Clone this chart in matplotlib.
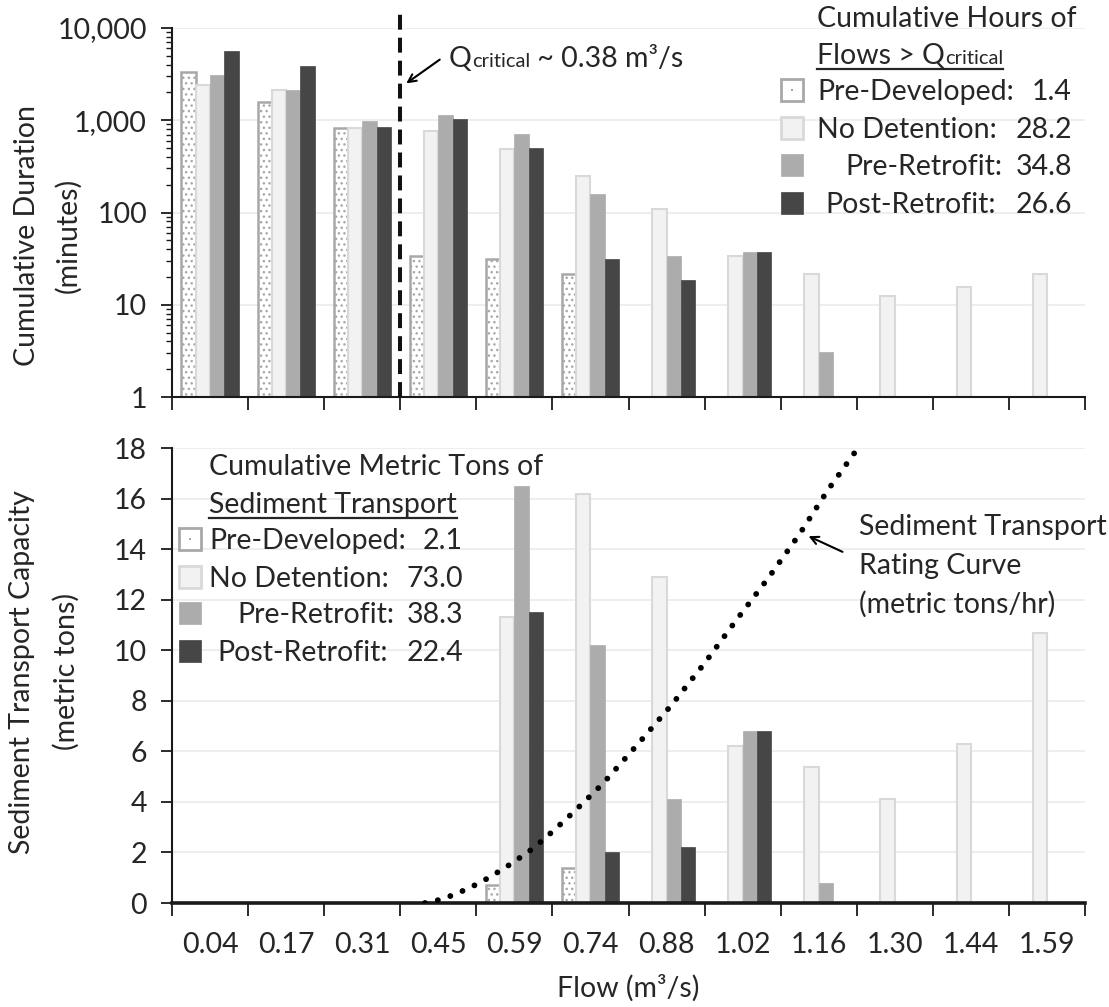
import matplotlib
matplotlib.use("Agg")
import matplotlib.pyplot as plt
import numpy as np
from matplotlib.ticker import FuncFormatter, LogLocator, NullFormatter
from matplotlib.patches import Rectangle, FancyArrowPatch
from matplotlib.lines import Line2D

plt.rcParams['font.family'] = ['Lato', 'DejaVu Sans']
plt.rcParams['hatch.linewidth'] = 1.0

# ---------------- data ----------------
flow_labels = ["0.04", "0.17", "0.31", "0.45", "0.59", "0.74",
               "0.88", "1.02", "1.16", "1.30", "1.44", "1.59"]
series_names = ["Pre-Developed", "No Detention", "Pre-Retrofit", "Post-Retrofit"]

duration_predev = [3300, 1560, 820, 34, 31, 21.7, 0, 0, 0, 0, 0, 0]
duration_nodet = [2400, 2130, 820, 760, 490, 250, 108, 34, 21.5, 12.5, 15.5, 21.5]
duration_preret = [3100, 2150, 970, 1150, 710, 158, 34, 37, 3.1, 0, 0, 0]
duration_post = [5650, 3860, 850, 1030, 495, 31, 18.7, 37, 0, 0, 0, 0]

sediment_predev = [0, 0, 0, 0, 0.7, 1.4, 0, 0, 0, 0, 0, 0]
sediment_nodet = [0, 0, 0, 0.04, 11.3, 16.2, 12.9, 6.2, 5.4, 4.1, 6.3, 10.7]
sediment_preret = [0, 0, 0, 0.04, 16.5, 10.2, 4.1, 6.8, 0.8, 0, 0, 0]
sediment_post = [0, 0, 0, 0.04, 11.5, 2.0, 2.2, 6.8, 0, 0, 0, 0]

hours_totals = ["1.4", "28.2", "34.8", "26.6"]
tons_totals = ["2.1", "73.0", "38.3", "22.4"]

q_critical = 0.38
rating_flow = [0.438, 0.47, 0.50, 0.53, 0.558, 0.599, 0.639, 0.676, 0.713, 0.767,
               0.833, 0.895, 0.956, 1.015, 1.074, 1.131, 1.185, 1.240]
rating_tons = [0.0, 0.15, 0.40, 0.70, 1.02, 1.57, 2.17, 2.86, 3.59, 4.71,
               6.30, 7.84, 9.49, 11.2, 12.86, 14.57, 16.36, 18.0]

# ---------------- styles ----------------
W, H = 1109, 1007
TXT = '#262626'
FS = 20.5
FS_SUB = 14.5
styles = [
    dict(facecolor='white', edgecolor='#a8a8a8', linewidth=1.8, hatch='...'),
    dict(facecolor='#f2f2f2', edgecolor='#d9d9d9', linewidth=1.5),
    dict(facecolor='#acacac', edgecolor='#acacac', linewidth=0.5),
    dict(facecolor='#464646', edgecolor='#464646', linewidth=0.5),
]
bar_w = 0.188

fig = plt.figure(figsize=(W / 100, H / 100), dpi=100)
renderer = fig.canvas.get_renderer()

def fx(x):
    return x / W

def fy(y):
    return 1 - y / H

ax_top = fig.add_axes([fx(172), fy(397), (1085 - 172) / W, (397 - 28) / H])
ax_bot = fig.add_axes([fx(172), fy(903), (1085 - 172) / W, (903 - 448) / H])

n = len(flow_labels)
pos = np.arange(n)
offsets = (np.arange(4) - 1.5) * bar_w

durations = [duration_predev, duration_nodet, duration_preret, duration_post]
sediments = [sediment_predev, sediment_nodet, sediment_preret, sediment_post]

for k in range(4):
    v = np.array(durations[k], dtype=float)
    m = v > 0
    ax_top.bar(pos[m] + offsets[k], v[m], width=bar_w, **styles[k], zorder=2)
    s = np.array(sediments[k], dtype=float)
    m2 = s > 0
    ax_bot.bar(pos[m2] + offsets[k], s[m2], width=bar_w, **styles[k], zorder=2)

# ---------------- top axes ----------------
ax_top.set_yscale('log')
ax_top.set_ylim(1, 10000)
ax_top.set_xlim(-0.5, n - 0.5)
ax_top.yaxis.set_major_locator(LogLocator(base=10, numticks=10))
ax_top.yaxis.set_minor_locator(LogLocator(base=10, subs=np.arange(2, 10), numticks=10))
ax_top.yaxis.set_major_formatter(FuncFormatter(lambda v, p: f"{v:,.0f}"))
ax_top.yaxis.set_minor_formatter(NullFormatter())
ax_top.set_xticks(np.arange(-0.5, n, 1.0))
ax_top.set_xticklabels([])
for ax in (ax_top, ax_bot):
    for sp in ('top', 'right'):
        ax.spines[sp].set_visible(False)
    ax.spines['left'].set_linewidth(1.5)
    ax.spines['left'].set_color('#1a1a1a')
    ax.spines['bottom'].set_color('#1a1a1a')
    ax.set_axisbelow(True)
    ax.grid(axis='y', which='major', color='#ebebeb', linewidth=1.2)
    ax.tick_params(axis='y', which='major', direction='out', length=8, width=1.3,
                   labelsize=FS, labelcolor=TXT, pad=10, color='#1a1a1a')
    ax.tick_params(axis='x', which='major', direction='out', length=9, width=1.3,
                   color='#1a1a1a')
ax_top.spines['bottom'].set_linewidth(1.5)
ax_top.tick_params(axis='y', which='minor', direction='out', length=4, width=1.0,
                   color='#1a1a1a')

# Q critical line at the bin boundary just above q_critical
idx_q = next(i for i, l in enumerate(flow_labels) if float(l) > q_critical)
ax_top.plot([idx_q - 0.5, idx_q - 0.5], [1, 17000], color='#111111', lw=2.9,
            linestyle=(0, (3.7, 2.0)), clip_on=False, zorder=4)

# ---------------- bottom axes ----------------
ax_bot.set_ylim(0, 18)
ax_bot.set_xlim(-0.5, n - 0.5)
ax_bot.set_yticks(np.arange(0, 19, 2))
ax_bot.spines['bottom'].set_linewidth(2.6)
ax_bot.set_xticks(np.arange(-0.5, n, 1.0))
ax_bot.set_xticklabels([])
ax_bot.set_xticks(pos, minor=True)
ax_bot.set_xticklabels(flow_labels, minor=True)
ax_bot.tick_params(axis='x', which='minor', length=0, labelsize=FS,
                   labelcolor=TXT, pad=21)

# rating curve on a flow-scaled twin axis
flow_centers = [float(l) for l in flow_labels]
step = (flow_centers[-1] - flow_centers[0]) / (n - 1)
ax_c = ax_bot.twiny()
ax_c.set_xlim(flow_centers[0] - step / 2, flow_centers[-1] + step / 2)
ax_c.set_ylim(0, 18)
ax_c.axis('off')
ax_c.plot(rating_flow, rating_tons, color='black', lw=4.2,
          linestyle=(0, (0.01, 2.25)), dash_capstyle='round', zorder=5)

# ---------------- text helpers ----------------
def rich(x, y, pieces, underline=False):
    cur = x
    for s, size in pieces:
        t = fig.text(fx(cur), fy(y), s, fontsize=size, ha='left', va='baseline',
                     color=TXT)
        cur += t.get_window_extent(renderer).width
    if underline:
        fig.add_artist(Line2D([fx(x), fx(cur)], [fy(y + 5), fy(y + 5)],
                              color=TXT, lw=1.6, transform=fig.transFigure))
    return cur

def legend_block(x_patch, x_text, x_val, baselines, totals):
    indents = [0, 0, 28, 8]
    for k in range(4):
        b = baselines[k]
        st = styles[k]
        fig.add_artist(Rectangle((fx(x_patch), fy(b + 1)), 22 / W, 22 / H,
                                 transform=fig.transFigure,
                                 facecolor=st['facecolor'], edgecolor=st['edgecolor'],
                                 linewidth=2.0 if k < 2 else 0.5))
        if k == 0:
            fig.add_artist(Rectangle((fx(x_patch + 10), fy(b - 9)), 2 / W, 2 / H,
                                     transform=fig.transFigure, facecolor='#a8a8a8',
                                     edgecolor='none'))
        fig.text(fx(x_text + indents[k]), fy(b), series_names[k] + ":",
                 fontsize=FS, ha='left', va='baseline', color=TXT)
        fig.text(fx(x_val), fy(b), totals[k], fontsize=FS, ha='right',
                 va='baseline', color=TXT)

# top legend
rich(817, 27, [("Cumulative Hours of", FS)])
rich(817, 64, [("Flows > Q", FS), ("critical", FS_SUB)], underline=True)
legend_block(781, 817, 1072, [100, 138, 175, 213], hours_totals)

# bottom legend
rich(209, 475, [("Cumulative Metric Tons of", FS)])
rich(209, 513, [("Sediment Transport", FS)], underline=True)
legend_block(179, 209, 463, [549, 587, 623, 661], tons_totals)

# Q critical annotation
rich(449, 67, [("Q", FS), ("critical", FS_SUB), (" ~ 0.38 m³/s", FS)])
fig.add_artist(FancyArrowPatch(
    (fx(442), fy(58)), (fx(404), fy(85)), transform=fig.transFigure,
    arrowstyle='->', mutation_scale=14, lw=1.5, color='black'))

# rating curve annotation
for i, line in enumerate(["Sediment Transport", "Rating Curve", "(metric tons/hr)"]):
    fig.text(fx(859), fy(535 + 39 * i), line, fontsize=FS, ha='left',
             va='baseline', color=TXT)
fig.add_artist(FancyArrowPatch(
    (fx(845), fy(553)), (fx(806), fy(535)), transform=fig.transFigure,
    arrowstyle='->', mutation_scale=14, lw=1.5, color='black'))

# axis labels
fig.text(fx(27), fy(235), "Cumulative Duration", rotation=90, fontsize=FS,
         ha='center', va='center', color=TXT)
fig.text(fx(68), fy(235), "(minutes)", rotation=90, fontsize=FS,
         ha='center', va='center', color=TXT)
fig.text(fx(22), fy(672), "Sediment Transport Capacity", rotation=90, fontsize=FS,
         ha='center', va='center', color=TXT)
fig.text(fx(66), fy(672), "(metric tons)", rotation=90, fontsize=FS,
         ha='center', va='center', color=TXT)
fig.text(fx(628), fy(988), "Flow (m³/s)", fontsize=FS, ha='center', va='center',
         color=TXT)

fig.savefig("out.png", dpi=100, facecolor='white')
